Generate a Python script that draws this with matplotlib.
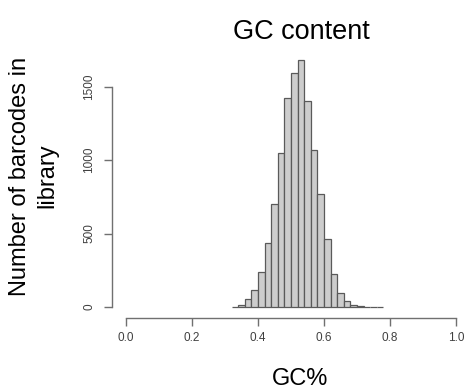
import numpy as np
import matplotlib
matplotlib.use('Agg')
import matplotlib.pyplot as plt

plt.rcParams['font.family'] = ['Liberation Sans', 'DejaVu Sans']

# bin left edges (GC fraction) and counts
bin_left = [0.32, 0.34, 0.36, 0.38, 0.40, 0.42, 0.44, 0.46, 0.48, 0.50, 0.52, 0.54,
            0.56, 0.58, 0.60, 0.62, 0.64, 0.66, 0.68, 0.70, 0.72, 0.74, 0.76]
counts = [3, 13, 52, 113, 240, 437, 703, 1046, 1424, 1590, 1680, 1401,
          1068, 771, 466, 226, 93, 38, 13, 4, 2, 1, 1]
bin_w = 0.02

x_ticks = [0.0, 0.2, 0.4, 0.6, 0.8, 1.0]
y_ticks = [0, 500, 1000, 1500]

W, H = 474, 392
fig = plt.figure(figsize=(W / 100, H / 100), dpi=100)
# axes box placed in pixels (R style plot region)
ax = fig.add_axes([112 / W, (H - 318) / H, 358 / W, 275 / H])

ax.bar(bin_left, counts, width=bin_w, align='edge', color='#cdcdcd',
       edgecolor='#5a5a5a', linewidth=0.9)

ax.set_xlim(-0.0424, 1.0424)
ax.set_ylim(-75, 1797)

axcol = '#707070'
for s in ['top', 'right']:
    ax.spines[s].set_visible(False)
ax.spines['left'].set_bounds(0, 1500)
ax.spines['bottom'].set_bounds(0, 1)
for s in ['left', 'bottom']:
    ax.spines[s].set_color(axcol)
    ax.spines[s].set_linewidth(1.0)

ax.set_xticks(x_ticks)
ax.set_xticklabels(['%.1f' % v for v in x_ticks])
ax.set_yticks(y_ticks)
ax.set_yticklabels([str(v) for v in y_ticks], rotation=90, va='center')
ax.tick_params(axis='both', colors=axcol, labelcolor='#404040', labelsize=8.5,
               length=6, width=1.0)
ax.tick_params(axis='x', pad=4)
ax.tick_params(axis='y', pad=6)

fig.text(301 / W, 1 - 32 / H, 'GC content', ha='center', va='center', fontsize=19.5)
fig.text(300 / W, 1 - 379 / H, 'GC%', ha='center', va='center', fontsize=17)
fig.text(34 / W, 1 - 176 / H, 'Number of barcodes in\nlibrary', ha='center',
         va='center', rotation=90, fontsize=17, linespacing=1.3)

fig.savefig('out.png', dpi=100)
